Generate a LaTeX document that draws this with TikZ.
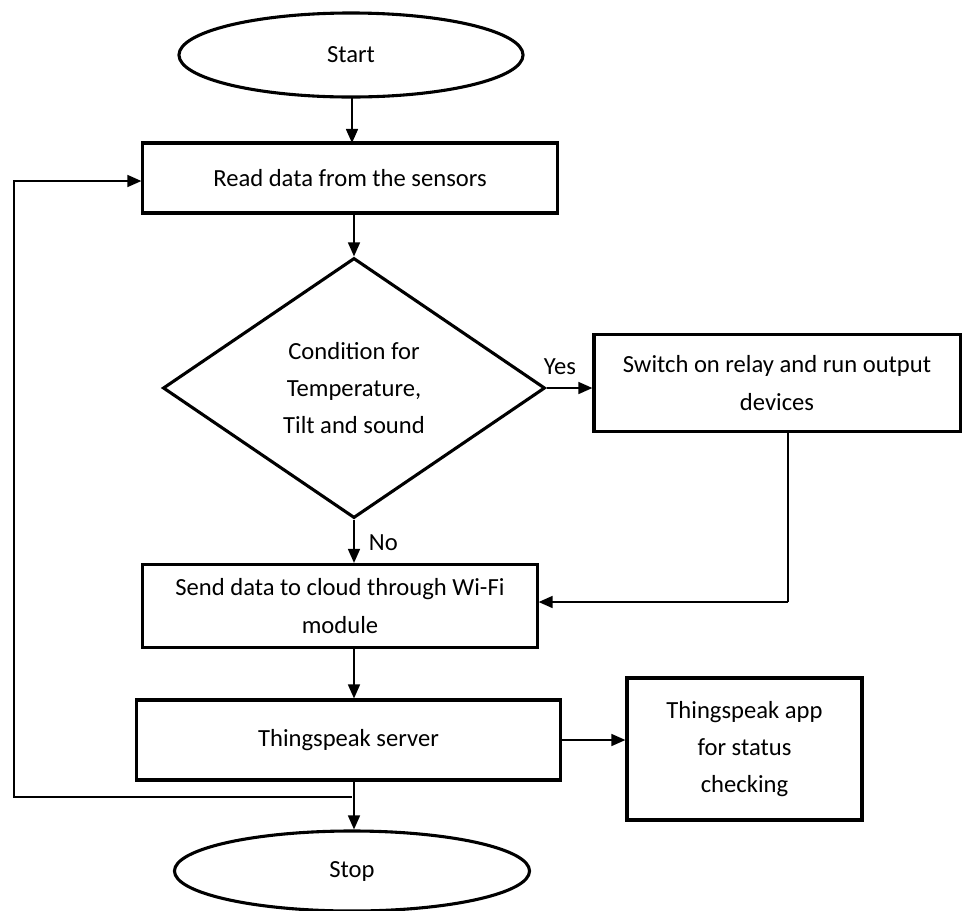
\documentclass[tikz,border=0pt]{standalone}
\usepackage{fontspec}
\setmainfont{Carlito}
\usetikzlibrary{shapes.geometric,arrows.meta}
\tikzset{
  term/.style={draw,ellipse,line width=2.2pt,inner sep=0pt},
  procbox/.style={draw,rectangle,line width=2.2pt,inner sep=0pt,align=center},
  decbox/.style={draw,diamond,line width=2.2pt,inner sep=0pt,align=center},
  flow/.style={line width=1.3pt,-{Triangle[length=10pt,width=8.5pt]}},
  wire/.style={line width=1.3pt}
}
\begin{document}
\begin{tikzpicture}[x=0.025cm,y=-0.025cm,font=\fontsize{17.5}{26.5}\selectfont]
\useasboundingbox (0,0) rectangle (962,910);
\node[term,minimum width=8.6cm,minimum height=2.1cm] (start) at (351,55) {Start}; % start
\node[procbox,minimum width=10.35cm,minimum height=1.75cm] (read) at (350,178) {Read data from the sensors}; % read
\node[decbox,minimum width=9.55cm,minimum height=6.5cm] (cond) at (354,388) {Condition for\\Temperature,\\Tilt and sound}; % condition
\node[procbox,minimum width=9.15cm,minimum height=2.425cm] (relay) at (777,383) {Switch on relay and run output\\devices}; % relay
\node[procbox,minimum width=9.85cm,minimum height=2.075cm] (send) at (340,606) {Send data to cloud through Wi-Fi\\module}; % send
\node[procbox,minimum width=10.575cm,minimum height=2cm] (server) at (348.5,740) {Thingspeak server}; % server
\node[procbox,minimum width=5.875cm,minimum height=3.55cm] (app) at (744.5,749) {Thingspeak app\\for status\\checking}; % app
\node[term,minimum width=8.875cm,minimum height=2cm] (stop) at (352,871) {Stop}; % stop
\coordinate (r1) at (788,602); % relay return
\coordinate (fb0) at (352,797); % feedback start
\coordinate (fb1) at (14,797); % feedback corner
\coordinate (fb2) at (14,181); % feedback top
\draw[flow] (352,97) -- (352,143); % start to read
\draw[flow] (read.south -| cond.north) -- (cond.north); % read to condition
\draw[flow] (cond.east) -- (cond.east -| relay.west); % yes
\node[above right] (yes) at (539,380) {Yes}; % yes label
\draw[flow] (cond.south) -- (cond.south |- send.north); % no
\node[right] (no) at (364,543) {No}; % no label
\draw[wire] (relay.south -| r1) -- (r1); % relay down
\draw[flow] (r1) -- (r1 -| send.east); % relay to send
\draw[flow] (send.south -| cond.south) -- (server.north -| cond.south); % send to server
\draw[flow] (server.east) -- (server.east -| app.west); % server to app
\draw[flow] (server.south -| cond.south) -- (stop.north -| cond.south); % server to stop
\draw[flow] (fb0) -- (fb1) -- (fb2) -- (fb2 -| read.west); % feedback
\end{tikzpicture}
\end{document}
